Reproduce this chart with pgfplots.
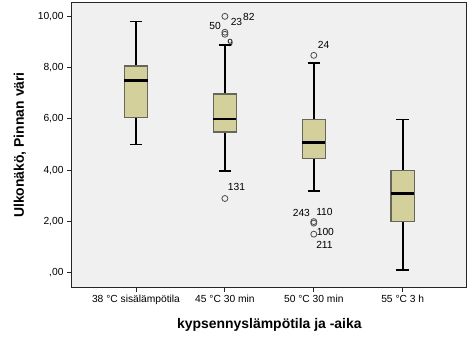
\documentclass[border=0pt]{standalone}
\usepackage{fontspec}
\setmainfont{Liberation Sans}
\usepackage{pgfplots}
\pgfplotsset{compat=1.18}
\usepgfplotslibrary{statistics}
\definecolor{boxfill}{HTML}{D4D09C}
\definecolor{bgc}{HTML}{F0F0F0}
\definecolor{boxedge}{HTML}{66665A}
\begin{document}
\begin{tikzpicture}
\useasboundingbox (-72bp,-69bp) rectangle (401bp,287bp);
\begin{axis}[
  scale only axis,
  width=394.7bp, height=284bp,
  xmin=-0.72, xmax=3.72,
  ymin=-0.55, ymax=10.52,
  axis background/.style={fill=bgc},
  axis line style={black!85, line width=1bp},
  xtick={0,1,2,3},
  xticklabels={38 °C sisälämpötila, 45 °C 30 min, 50 °C 30 min, 55 °C 3 h},
  ytick={0,2,4,6,8,10},
  yticklabels={{,00},{2,00},{4,00},{6,00},{8,00},{10,00}},
  tick align=outside,
  major tick length=5bp,
  xtick pos=bottom, ytick pos=left,
  tick style={black!85, line width=1bp},
  ticklabel style={font=\fontsize{10.3}{12}\selectfont},
  xlabel={kypsennyslämpötila ja -aika},
  ylabel={Ulkonäkö, Pinnan väri},
  label style={font=\fontsize{14}{16}\selectfont\bfseries},
  xlabel style={at={(axis description cs:0.5,-0.1338)}, anchor=center},
  ylabel style={at={(axis description cs:-0.1317,0.5)}, anchor=center},
  boxplot/draw direction=y,
  boxplot/box extend=0.26,
  boxplot/whisker extend=0.14,
  boxplot/every box/.style={fill=boxfill, draw=boxedge, line width=1.3bp},
  boxplot/every median/.style={black, line width=2.7bp},
  boxplot/every whisker/.style={black, line width=1.7bp},
  mark options={draw=black!70, fill=bgc, line width=0.8bp, mark size=3bp},
]
\addplot+[boxplot prepared={lower whisker=5.0, lower quartile=6.07, median=7.5, upper quartile=8.07, upper whisker=9.8, draw position=0}, mark=o, black] coordinates {};
\addplot+[boxplot prepared={lower whisker=3.98, lower quartile=5.49, median=6.0, upper quartile=6.97, upper whisker=8.87, draw position=1}, mark=o, black] coordinates {(0,10.0) (0,9.38) (0,9.3) (0,2.9)};
\addplot+[boxplot prepared={lower whisker=3.2, lower quartile=4.47, median=5.08, upper quartile=5.98, upper whisker=8.18, draw position=2}, mark=o, black] coordinates {(0,8.48) (0,2.0) (0,1.94) (0,1.51)};
\addplot+[boxplot prepared={lower whisker=0.1, lower quartile=1.99, median=3.09, upper quartile=3.98, upper whisker=5.98, draw position=3}, mark=o, black] coordinates {};
\begin{scope}[every node/.style={font=\fontsize{10.3}{12}\selectfont, inner sep=0pt}]
\node at (axis cs:1.27,9.99) {82};
\node at (axis cs:1.13,9.79) {23};
\node at (axis cs:0.89,9.64) {50};
\node at (axis cs:1.06,8.97) {9};
\node at (axis cs:2.11,8.89) {24};
\node at (axis cs:1.13,3.35) {131};
\node at (axis cs:1.86,2.34) {243};
\node at (axis cs:2.12,2.39) {110};
\node at (axis cs:2.13,1.60) {100};
\node at (axis cs:2.12,1.09) {211};
\end{scope}
\end{axis}
\end{tikzpicture}
\end{document}
